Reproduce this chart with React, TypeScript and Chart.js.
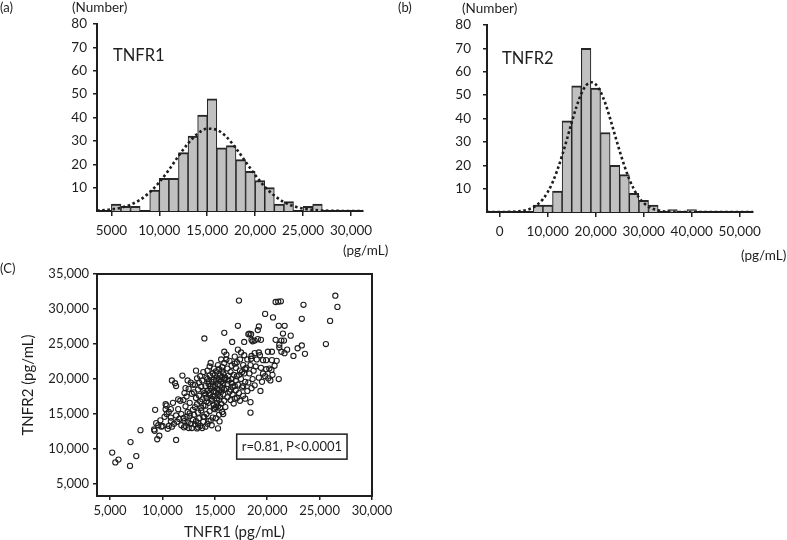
import React, { useEffect, useRef } from "react";
import { Chart, registerables } from "chart.js";

Chart.register(...registerables);

const FONT = "Lato, 'Open Sans', sans-serif";
const INK = "#1e1e1e";

// ---------- Panel (a): TNFR1 histogram ----------
const tnfr1BinWidth = 1000;
const tnfr1BinStarts = [5000, 6000, 7000, 8000, 9000, 10000, 11000, 12000, 13000, 14000, 15000, 16000, 17000, 18000, 19000, 20000, 21000, 22000, 23000, 24000, 25000, 26000];
const tnfr1Counts = [3, 2, 2, 0, 9, 14, 14, 25, 32, 41, 48, 27, 28, 22, 17, 13, 10, 3, 4, 0, 2, 3];
const tnfr1FitX = [3500, 4000, 5000, 6000, 7000, 8000, 9000, 10000, 11000, 12000, 13000, 14000, 15000, 16000, 17000, 18000, 19000, 20000, 21000, 22000, 23000, 24000, 25000, 26000, 27000, 28000, 29000, 30000, 31250];
const tnfr1FitY = [0.2, 0.3, 0.7, 1.4, 2.7, 4.8, 8.0, 12.3, 17.6, 23.5, 28.9, 33.1, 35.2, 34.7, 31.7, 26.8, 21.1, 15.4, 10.4, 6.6, 3.8, 2.1, 1.0, 0.5, 0.2, 0.1, 0.03, 0.01, 0];
const tnfr1TickValues = [5000, 10000, 15000, 20000, 25000, 30000];
const tnfr1TickLabels = ["5000", "10,000", "15,000", "20,000", "25,000", "30,000"];

// ---------- Panel (b): TNFR2 histogram ----------
const tnfr2BinCenters = [8000, 10000, 12000, 14000, 16000, 18000, 20000, 22000, 24000, 26000, 28000, 30000, 32000, 34000, 36000, 38000, 40000];
const tnfr2Counts = [3, 3, 9, 39, 54, 70, 53, 34, 20, 16, 8, 5, 3, 0, 1, 0, 1];
const tnfr2FitX = [-2650, 0, 2000, 4000, 5000, 6000, 7000, 8000, 9000, 10000, 11000, 12000, 13000, 14000, 15000, 16000, 17000, 18000, 19000, 20000, 21000, 22000, 23000, 24000, 25000, 26000, 27000, 28000, 29000, 30000, 31000, 32000, 33000, 34000, 36000, 38000, 40000, 52770];
const tnfr2FitY = [0, 0.01, 0.07, 0.3, 0.6, 1.1, 2.0, 3.4, 5.5, 8.5, 12.6, 17.9, 24.2, 31.1, 38.3, 45.1, 50.6, 54.2, 55.5, 54.6, 51.5, 46.5, 40.0, 32.9, 26.0, 19.6, 14.0, 9.6, 6.2, 3.9, 2.3, 1.3, 0.7, 0.35, 0.08, 0.01, 0, 0];
const tnfr2TickValues = [0, 10000, 20000, 30000, 40000, 50000];
const tnfr2TickLabels = ["0", "10,000", "20,000", "30,000", "40,000", "50,000"];

const countTickValues = [10, 20, 30, 40, 50, 60, 70, 80];

// ---------- Panel (C): scatter, values in thousands pg/mL [TNFR1, TNFR2] ----------
const scatterPoints: [number, number][] = [
  [5.2, 9.5], [5.5, 8.1], [5.8, 8.5], [6.9, 7.6], [6.95, 11.0], [7.5, 9.0], [7.9, 12.7],
  [9.2, 12.8], [9.25, 12.6], [9.7, 11.9], [9.5, 11.4], [9.3, 15.6], [9.4, 13.7], [9.8, 14.1], [9.6, 13.4], [9.9, 13.2],
  [10.0, 13.3], [10.4, 15.0], [10.6, 13.3], [10.9, 13.2], [10.8, 14.0], [10.3, 15.7], [10.3, 16.4], [10.4, 16.2], [10.8, 15.7], [10.6, 15.3], [10.8, 14.5], [10.9, 19.8], [10.2, 14.6], [10.5, 12.9],
  [11.3, 11.3], [11.0, 16.6], [11.2, 19.4], [11.3, 19.0], [11.5, 17.1], [11.7, 16.9], [11.5, 15.7], [11.8, 15.0], [11.4, 13.9], [11.6, 14.3], [11.1, 13.6], [11.9, 20.5], [11.8, 13.4], [11.3, 14.8],
  [12.0, 14.4], [12.4, 15.3], [12.1, 14.0], [12.3, 14.6], [12.6, 15.1], [12.05, 13.1], [12.2, 18.7], [12.5, 13.0], [12.8, 13.0], [12.7, 13.6], [12.4, 13.8], [12.9, 14.2], [12.2, 16.1], [12.6, 16.6], [12.3, 17.5], [12.8, 17.9], [12.1, 18.0], [12.5, 18.6], [12.9, 19.2], [12.7, 19.5], [12.4, 19.8], [12.0, 17.0], [12.6, 14.7], [12.9, 15.6], [12.2, 13.3],
  [13.3, 12.95], [13.4, 13.1], [13.1, 13.5], [13.6, 13.3], [13.8, 13.0], [13.2, 14.0], [13.5, 14.4], [13.9, 14.6], [13.0, 14.9], [13.4, 15.2], [13.7, 15.5], [13.1, 16.0], [13.3, 16.4], [13.6, 16.8], [13.9, 16.2], [13.2, 17.3], [13.5, 17.6], [13.8, 17.1], [13.0, 18.1], [13.4, 18.5], [13.7, 18.9], [13.9, 18.3], [13.1, 19.2], [13.5, 19.5], [13.8, 19.8], [13.3, 20.1], [13.6, 20.4], [13.9, 21.0], [13.2, 21.2], [13.7, 15.9], [13.4, 13.7], [13.9, 13.9],
  [14.0, 25.8], [14.5, 21.8], [14.1, 13.2], [14.3, 13.6], [14.6, 14.1], [14.8, 14.5], [14.2, 15.0], [14.5, 15.4], [14.9, 15.8], [14.1, 16.2], [14.4, 16.6], [14.7, 16.9], [14.2, 17.3], [14.5, 17.7], [14.8, 17.5], [14.0, 18.0], [14.3, 18.3], [14.6, 18.6], [14.9, 18.2], [14.1, 19.0], [14.4, 19.3], [14.7, 19.6], [14.9, 19.9], [14.2, 20.2], [14.5, 20.5], [14.8, 20.8], [14.3, 21.2], [14.6, 22.3], [14.9, 21.5], [14.0, 14.6], [14.4, 14.0], [14.7, 13.4], [14.9, 16.3], [14.1, 17.8], [14.6, 19.0], [14.3, 20.0], [14.8, 18.9], [14.5, 18.0], [14.2, 16.8], [14.7, 17.2], [14.4, 19.7],
  [15.3, 12.95], [15.45, 13.95], [15.9, 26.6], [15.1, 14.4], [15.4, 14.9], [15.7, 15.3], [15.0, 15.7], [15.3, 16.1], [15.6, 16.5], [15.9, 16.9], [15.2, 17.2], [15.5, 17.5], [15.8, 17.8], [15.1, 18.1], [15.4, 18.4], [15.7, 18.7], [15.0, 19.0], [15.3, 19.3], [15.6, 19.6], [15.9, 19.9], [15.2, 20.2], [15.5, 20.5], [15.8, 20.8], [15.1, 21.1], [15.4, 21.4], [15.7, 21.7], [15.9, 22.3], [15.6, 22.8], [15.3, 22.0], [15.9, 23.9], [15.0, 17.6], [15.2, 18.6], [15.5, 19.1], [15.8, 19.4], [15.1, 19.8], [15.4, 20.0], [15.7, 20.3], [15.0, 20.6], [15.3, 17.9], [15.6, 18.2], [15.9, 18.5], [15.2, 16.6], [15.5, 15.9], [15.8, 15.0], [15.1, 16.0], [15.4, 17.0], [15.7, 21.2], [15.95, 20.1],
  [16.1, 22.8], [16.9, 23.2], [16.65, 25.3], [16.2, 21.5], [16.5, 21.0], [16.8, 20.6], [16.0, 20.2], [16.3, 19.8], [16.6, 19.4], [16.9, 19.0], [16.1, 18.6], [16.4, 18.2], [16.7, 17.8], [16.2, 17.4], [16.5, 17.0], [16.8, 16.5], [16.0, 16.0], [16.3, 20.5], [16.6, 21.9], [16.9, 22.2], [16.4, 22.6], [16.7, 18.9], [16.2, 19.3], [16.5, 18.5], [16.9, 17.2], [16.1, 23.5], [16.6, 20.0],
  [17.3, 31.2], [17.2, 27.6], [17.8, 25.3], [17.4, 22.8], [17.1, 22.4], [17.7, 22.0], [17.0, 21.6], [17.4, 21.2], [17.8, 20.8], [17.1, 20.4], [17.5, 20.0], [17.9, 19.6], [17.2, 19.2], [17.6, 18.8], [17.0, 18.4], [17.3, 18.0], [17.7, 17.6], [17.9, 17.2], [17.4, 16.9], [17.8, 23.4], [17.5, 23.8], [17.2, 24.2], [17.9, 21.4], [17.6, 21.0], [17.3, 20.6], [17.0, 19.8], [17.7, 19.0], [17.1, 17.3],
  [18.2, 26.4], [18.3, 26.5], [18.46, 26.4], [18.5, 25.6], [18.8, 25.5], [18.46, 22.9], [18.9, 21.8], [18.6, 25.4], [18.4, 15.2], [18.4, 16.7], [18.1, 18.3], [18.5, 18.7], [18.8, 19.1], [18.2, 19.5], [18.6, 20.0], [18.3, 20.8], [18.7, 21.2], [18.0, 21.6], [18.4, 22.0], [18.8, 23.7], [18.1, 22.8], [18.5, 23.3],
  [19.1, 27.0], [19.2, 27.5], [19.1, 25.7], [19.4, 25.6], [19.8, 29.3], [19.2, 23.8], [19.3, 23.4], [19.0, 22.8], [19.6, 22.7], [19.9, 22.7], [19.4, 21.6], [19.9, 21.4], [19.35, 18.3], [19.8, 20.4], [19.6, 20.8], [19.2, 20.2], [19.5, 19.6],
  [20.55, 28.8], [20.8, 31.0], [20.8, 25.6], [20.07, 23.9], [20.45, 23.9], [20.45, 22.7], [20.9, 22.6], [20.2, 21.5], [20.4, 21.3], [20.1, 20.1], [20.5, 20.6], [20.3, 19.8], [20.7, 21.9],
  [21.05, 31.05], [21.3, 31.1], [21.1, 27.6], [21.66, 27.6], [21.5, 26.5], [21.35, 25.5], [21.6, 25.5], [21.15, 24.9], [21.15, 24.5], [21.35, 23.9], [21.65, 23.7], [21.9, 24.2], [21.1, 20.0],
  [22.24, 26.2], [22.5, 23.3], [22.9, 24.4],
  [23.46, 30.6], [23.3, 28.6], [23.3, 24.8], [23.6, 23.6],
  [25.6, 25.0], [26.0, 28.3], [26.5, 31.9], [26.7, 30.3],
];
const scatterXTicks = [5000, 10000, 15000, 20000, 25000, 30000];
const scatterXTickLabels = ["5,000", "10,000", "15,000", "20,000", "25,000", "30,000"];
const scatterYTicks = [5000, 10000, 15000, 20000, 25000, 30000, 35000];
const scatterYTickLabels = ["5,000", "10,000", "15,000", "20,000", "25,000", "30,000", "35,000"];
const correlationText = "r=0.81, P<0.0001";
const correlationAt = { x: 22350, y: 10350 };

type HistOpts = {
  centers: number[];
  counts: number[];
  fitX: number[];
  fitY: number[];
  xMin: number;
  xMax: number;
  xTicks: number[];
  xTickLabels: string[];
  padding: { left: number; right: number; top: number; bottom: number };
  yLabelPad: number;
};

function histogramConfig(o: HistOpts): any {
  return {
    type: "bar",
    data: {
      datasets: [
        {
          type: "line",
          data: o.fitX.map((x, i) => ({ x, y: o.fitY[i] })),
          borderColor: "#1c1c1c",
          borderWidth: 2.6,
          borderDash: [2.6, 2.6],
          pointRadius: 0,
          cubicInterpolationMode: "monotone",
          fill: false,
          order: 0,
        },
        {
          type: "bar",
          data: o.centers.map((x, i) => ({ x, y: o.counts[i] > 0 ? o.counts[i] : null })),
          backgroundColor: "#c0c0c0",
          borderColor: "#262626",
          borderWidth: { top: 2, left: 1.1, right: 1.1, bottom: 0 },
          barPercentage: 1,
          categoryPercentage: 1,
          order: 1,
        },
      ],
    },
    options: {
      animation: false,
      responsive: false,
      maintainAspectRatio: false,
      layout: { padding: o.padding },
      plugins: { legend: { display: false }, tooltip: { enabled: false } },
      scales: {
        x: {
          type: "linear",
          min: o.xMin,
          max: o.xMax,
          offset: false,
          afterBuildTicks: (s: any) => {
            s.ticks = o.xTicks.map((v) => ({ value: v }));
          },
          afterFit: (s: any) => {
            s.height = 30;
          },
          grid: { display: true, drawOnChartArea: false, drawTicks: true, tickLength: 5, color: INK, lineWidth: 1.5, offset: false },
          border: { display: true, color: INK, width: 2 },
          ticks: {
            autoSkip: false,
            maxRotation: 0,
            padding: 7,
            color: INK,
            font: { family: FONT, size: 13.5 },
            callback: (_v: any, i: number) => o.xTickLabels[i],
          },
        },
        y: {
          type: "linear",
          min: 0,
          max: 80,
          afterBuildTicks: (s: any) => {
            s.ticks = countTickValues.map((v) => ({ value: v }));
          },
          afterFit: (s: any) => {
            s.width = 40;
          },
          grid: { display: true, drawOnChartArea: false, drawTicks: true, tickLength: 4, color: INK, lineWidth: 1.5 },
          border: { display: true, color: INK, width: 2 },
          ticks: {
            padding: o.yLabelPad,
            color: INK,
            font: { family: FONT, size: 13.5 },
            callback: (v: any) => String(v),
          },
        },
      },
    },
  };
}

const boxPlugin = {
  id: "frameBox",
  afterDraw(chart: any) {
    const { ctx, chartArea } = chart;
    ctx.save();
    ctx.strokeStyle = INK;
    ctx.lineWidth = 2;
    ctx.strokeRect(chartArea.left, chartArea.top, chartArea.right - chartArea.left, chartArea.bottom - chartArea.top);
    ctx.restore();
  },
};

const annotationPlugin = {
  id: "corrNote",
  afterDraw(chart: any) {
    const { ctx } = chart;
    const px = chart.scales.x.getPixelForValue(correlationAt.x);
    const py = chart.scales.y.getPixelForValue(correlationAt.y);
    ctx.save();
    ctx.font = `13px ${FONT}`;
    const w = ctx.measureText(correlationText).width + 10;
    const h = 25;
    ctx.fillStyle = "#ffffff";
    ctx.fillRect(px - w / 2, py - h / 2, w, h);
    ctx.strokeStyle = INK;
    ctx.lineWidth = 1.5;
    ctx.strokeRect(px - w / 2, py - h / 2, w, h);
    ctx.fillStyle = INK;
    ctx.textAlign = "center";
    ctx.textBaseline = "middle";
    ctx.fillText(correlationText, px, py + 0.5);
    ctx.restore();
  },
};

function scatterConfig(): any {
  return {
    type: "scatter",
    data: {
      datasets: [
        {
          data: scatterPoints.map(([a, b]) => ({ x: a * 1000, y: b * 1000 })),
          pointRadius: 2.6,
          pointBorderWidth: 1.1,
          borderColor: "#1e1e1e",
          backgroundColor: "rgba(0,0,0,0)",
          pointStyle: "circle",
        },
      ],
    },
    options: {
      animation: false,
      responsive: false,
      maintainAspectRatio: false,
      layout: { padding: { left: 21, right: 28, top: 14, bottom: 0 } },
      plugins: { legend: { display: false }, tooltip: { enabled: false } },
      scales: {
        x: {
          type: "linear",
          min: 3750,
          max: 30000,
          afterBuildTicks: (s: any) => {
            s.ticks = scatterXTicks.map((v) => ({ value: v }));
          },
          afterFit: (s: any) => {
            s.height = 44;
          },
          grid: { display: true, drawOnChartArea: false, drawTicks: true, tickLength: 4, color: INK, lineWidth: 1.5 },
          border: { display: true, color: INK, width: 2 },
          ticks: {
            autoSkip: false,
            maxRotation: 0,
            padding: 3,
            color: INK,
            font: { family: FONT, size: 13 },
            callback: (_v: any, i: number) => scatterXTickLabels[i],
          },
          title: {
            display: true,
            text: "TNFR1 (pg/mL)",
            color: INK,
            font: { family: FONT, size: 15, lineHeight: 1 },
            padding: { top: 0, bottom: 0 },
          },
        },
        y: {
          type: "linear",
          min: 3300,
          max: 35000,
          afterBuildTicks: (s: any) => {
            s.ticks = scatterYTicks.map((v) => ({ value: v }));
          },
          afterFit: (s: any) => {
            s.width = 76;
          },
          grid: { display: true, drawOnChartArea: false, drawTicks: true, tickLength: 4, color: INK, lineWidth: 1.5 },
          border: { display: true, color: INK, width: 2 },
          ticks: {
            padding: 4,
            color: INK,
            font: { family: FONT, size: 13 },
            callback: (_v: any, i: number) => scatterYTickLabels[i],
          },
          title: {
            display: true,
            text: "TNFR2 (pg/mL)",
            color: INK,
            font: { family: FONT, size: 15, lineHeight: 1 },
            padding: { top: 0, bottom: 0 },
          },
        },
      },
    },
    plugins: [boxPlugin, annotationPlugin],
  };
}

function Label(props: { text: string; left: number; cy: number; size: number }) {
  return (
    <div
      style={{
        position: "absolute",
        left: props.left,
        top: props.cy - props.size / 2,
        fontFamily: FONT,
        fontSize: props.size,
        lineHeight: `${props.size}px`,
        color: INK,
        whiteSpace: "nowrap",
      }}
    >
      {props.text}
    </div>
  );
}

export default function App() {
  const refA = useRef<HTMLCanvasElement>(null);
  const refB = useRef<HTMLCanvasElement>(null);
  const refC = useRef<HTMLCanvasElement>(null);

  useEffect(() => {
    const charts: Chart[] = [];
    if (refA.current) {
      charts.push(
        new Chart(
          refA.current,
          histogramConfig({
            centers: tnfr1BinStarts.map((s) => s + tnfr1BinWidth / 2),
            counts: tnfr1Counts,
            fitX: tnfr1FitX,
            fitY: tnfr1FitY,
            xMin: 3500,
            xMax: 31250,
            xTicks: tnfr1TickValues,
            xTickLabels: tnfr1TickLabels,
            padding: { left: 57, right: 37, top: 24, bottom: 29 },
            yLabelPad: 6,
          })
        )
      );
    }
    if (refB.current) {
      charts.push(
        new Chart(
          refB.current,
          histogramConfig({
            centers: tnfr2BinCenters,
            counts: tnfr2Counts,
            fitX: tnfr2FitX,
            fitY: tnfr2FitY,
            xMin: -2650,
            xMax: 52770,
            xTicks: tnfr2TickValues,
            xTickLabels: tnfr2TickLabels,
            padding: { left: 47, right: 34, top: 25, bottom: 28 },
            yLabelPad: 12,
          })
        )
      );
    }
    if (refC.current) {
      charts.push(new Chart(refC.current, scatterConfig()));
    }
    return () => charts.forEach((c) => c.destroy());
  }, []);

  return (
    <div style={{ position: "absolute", left: 0, top: 0, width: 787, height: 540, background: "#fff", overflow: "hidden" }}>
      <canvas ref={refA} width={400} height={270} style={{ position: "absolute", left: 0, top: 0, width: 400, height: 270 }} />
      <canvas ref={refB} width={387} height={270} style={{ position: "absolute", left: 400, top: 0, width: 387, height: 270 }} />
      <canvas ref={refC} width={400} height={280} style={{ position: "absolute", left: 0, top: 260, width: 400, height: 280 }} />
      <Label text="(a)" left={0} cy={7} size={13} />
      <Label text="(Number)" left={72} cy={8} size={13.5} />
      <Label text="TNFR1" left={113} cy={55} size={16.5} />
      <Label text="(pg/mL)" left={343} cy={251} size={13.5} />
      <Label text="(b)" left={398} cy={7} size={13} />
      <Label text="(Number)" left={462} cy={9} size={13.5} />
      <Label text="TNFR2" left={502} cy={58} size={16.5} />
      <Label text="(pg/mL)" left={741} cy={256} size={13.5} />
      <Label text="(C)" left={0} cy={268} size={13} />
    </div>
  );
}
